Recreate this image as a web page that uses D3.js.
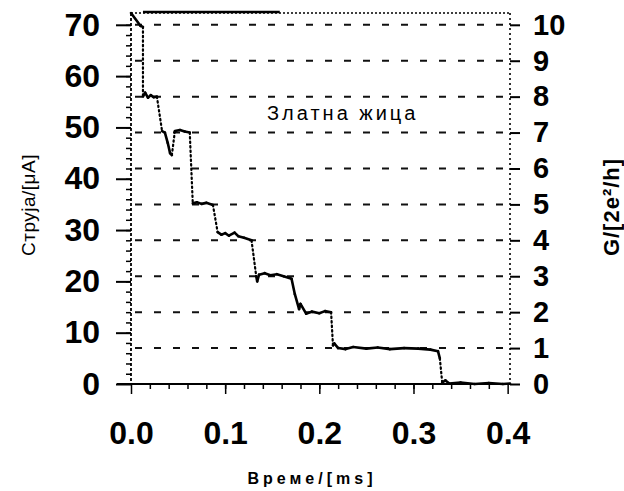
<!DOCTYPE html>
<html>
  <head>
    <meta charset="utf-8">
    <title>Златна жица</title>
    <script src="https://cdn.jsdelivr.net/npm/d3@7"></script>
    <style type="text/css">
      body { margin: 0; background: #fff; }
      text { font-family: "Liberation Sans", Arial, sans-serif; fill: #000; }
    </style>
  </head>
  <body>
    <script>
    // current trace of a breaking gold contact
    var timeMs = [0.000, 0.010, 0.0127, 0.0127, 0.015, 0.018, 0.021, 0.024, 0.0275, 0.033, 0.036,
                  0.039, 0.0415, 0.0434, 0.0466, 0.052, 0.057, 0.0624, 0.0656, 0.070, 0.075, 0.080,
                  0.087, 0.092, 0.096, 0.100, 0.104, 0.110, 0.114, 0.120, 0.128, 0.133, 0.134,
                  0.136, 0.142, 0.148, 0.155, 0.162, 0.1705, 0.174, 0.1785, 0.180, 0.186, 0.192,
                  0.200, 0.206, 0.2125, 0.2145, 0.216, 0.220, 0.228, 0.236, 0.250, 0.262, 0.275,
                  0.290, 0.305, 0.318, 0.326, 0.328, 0.3305, 0.334, 0.338, 0.350, 0.365, 0.380,
                  0.395, 0.4025];
    var currentUA = [72.3, 69.8, 69.6, 56.0, 56.8, 55.8, 56.3, 55.9, 56.0, 49.3, 49.0,
                     47.0, 45.0, 44.6, 49.3, 49.5, 49.2, 49.0, 35.2, 35.4, 35.1, 35.3,
                     34.9, 29.6, 29.1, 29.4, 28.9, 29.5, 28.8, 28.5, 28.0, 21.0, 20.0,
                     21.3, 21.6, 21.2, 21.4, 21.0, 20.5, 17.5, 14.6, 15.6, 13.7, 14.1,
                     13.8, 14.2, 14.0, 7.5, 7.9, 7.0, 6.8, 7.2, 6.9, 7.1, 6.8,
                     7.0, 6.9, 6.7, 6.4, 5.0, 0.3, 0.7, 0.1, 0.3, 0.0, 0.2,
                     0.0, 0.1];
    // part of the top edge where the trace sits at saturation
    var saturated = [0.0127, 0.158];

    var xTicks = [0.0, 0.1, 0.2, 0.3, 0.4];
    var xTickLabels = ["0.0", "0.1", "0.2", "0.3", "0.4"];
    var currentTicks = [0, 10, 20, 30, 40, 50, 60, 70];
    var gTicks = [0, 1, 2, 3, 4, 5, 6, 7, 8, 9, 10];

    var yTitle = "Струја/[μA]";
    var gTitle = "G/[2e²/h]";
    var xTitle = "Време/[ms]";
    var note = "Златна жица";

    var width = 624, height = 491;
    var margin = {top: 13, right: 114, bottom: 107, left: 131};

    var svg = d3.select("body")
      .append("svg")
        .attr("width", width)
        .attr("height", height);

    var xScale = d3.scaleLinear()
      .domain([0, 0.4025])
      .range([margin.left, width - margin.right]);

    var yScale = d3.scaleLinear()
      .domain([0, 72.3])
      .range([height - margin.bottom, margin.top]);

    // 1 G unit = 7 uA here
    var gScale = d3.scaleLinear()
      .domain([0, 72.3 / 7])
      .range([height - margin.bottom, margin.top]);

    var x0 = xScale.range()[0], x1 = xScale.range()[1];
    var y0 = yScale.range()[0], y1 = yScale.range()[1];

    // dashed grid at each G step
    svg.append("g")
      .selectAll("line")
      .data(gTicks.filter(function(d) { return d > 0; }))
      .enter()
      .append("line")
        .attr("x1", x0 + 4)
        .attr("x2", x1 - 4)
        .attr("y1", function(d) { return gScale(d); })
        .attr("y2", function(d) { return gScale(d); })
        .attr("stroke", "#111")
        .attr("stroke-width", 2)
        .attr("stroke-dasharray", "7 12");

    // frame: dotted top / right / left, solid bottom
    svg.append("line")
      .attr("x1", x0).attr("x2", x1).attr("y1", y1).attr("y2", y1)
      .attr("stroke", "#000").attr("stroke-width", 1.6)
      .attr("stroke-dasharray", "2 2");
    svg.append("line")
      .attr("x1", xScale(saturated[0])).attr("x2", xScale(saturated[1]))
      .attr("y1", y1 - 1).attr("y2", y1 - 1)
      .attr("stroke", "#000").attr("stroke-width", 2.5);
    svg.append("line")
      .attr("x1", x1).attr("x2", x1).attr("y1", y1).attr("y2", y0)
      .attr("stroke", "#000").attr("stroke-width", 1.6)
      .attr("stroke-dasharray", "2 3");
    svg.append("line")
      .attr("x1", x0).attr("x2", x0).attr("y1", y1).attr("y2", y0)
      .attr("stroke", "#000").attr("stroke-width", 1.8)
      .attr("stroke-dasharray", "3 2");
    svg.append("line")
      .attr("x1", x0 - 14).attr("x2", x1).attr("y1", y0).attr("y2", y0)
      .attr("stroke", "#000").attr("stroke-width", 2);

    // left axis
    var leftAxis = svg.append("g")
      .attr("transform", "translate(" + x0 + ",0)")
      .call(d3.axisLeft(yScale).tickValues(currentTicks).tickSize(15).tickPadding(16));
    leftAxis.select(".domain").remove();
    leftAxis.selectAll("line").attr("stroke-width", 2);
    leftAxis.selectAll("text")
      .attr("font-size", 32).attr("font-weight", "bold")
      .attr("font-family", "Liberation Sans, Arial, sans-serif");
    svg.append("g")
      .attr("transform", "translate(" + x0 + ",0)")
      .call(d3.axisLeft(yScale).tickValues(d3.range(2, 72, 2)).tickSize(5).tickFormat(""))
      .call(function(g) { g.select(".domain").remove(); g.selectAll("line").attr("stroke-width", 1.5); });

    // right axis (G)
    var rightAxis = svg.append("g")
      .attr("transform", "translate(" + x1 + ",0)")
      .call(d3.axisRight(gScale).tickValues(gTicks).tickSize(10).tickPadding(13));
    rightAxis.select(".domain").remove();
    rightAxis.selectAll("line").attr("stroke-width", 2);
    rightAxis.selectAll("text")
      .attr("font-size", 29).attr("font-weight", "bold")
      .attr("font-family", "Liberation Sans, Arial, sans-serif");

    // bottom axis
    var bottomAxis = svg.append("g")
      .attr("transform", "translate(0," + y0 + ")")
      .call(d3.axisBottom(xScale).tickValues(xTicks).tickSize(10).tickPadding(27)
        .tickFormat(function(d, i) { return xTickLabels[i]; }));
    bottomAxis.select(".domain").remove();
    bottomAxis.selectAll("line").attr("stroke-width", 1.5);
    bottomAxis.selectAll("text")
      .attr("font-size", 32).attr("font-weight", "bold")
      .attr("font-family", "Liberation Sans, Arial, sans-serif");
    svg.append("g")
      .attr("transform", "translate(0," + y0 + ")")
      .call(d3.axisBottom(xScale).tickValues(d3.range(0.02, 0.4, 0.02)).tickSize(5).tickFormat(""))
      .call(function(g) { g.select(".domain").remove(); g.selectAll("line").attr("stroke-width", 1.5); });

    // trace: plateaus solid, fast jumps dotted
    var pts = timeMs.map(function(t, i) { return [t, currentUA[i]]; });
    var segs = d3.pairs(pts);
    svg.append("g")
      .selectAll("line")
      .data(segs)
      .enter()
      .append("line")
        .attr("x1", function(d) { return xScale(d[0][0]); })
        .attr("y1", function(d) { return yScale(d[0][1]); })
        .attr("x2", function(d) { return xScale(d[1][0]); })
        .attr("y2", function(d) { return yScale(d[1][1]); })
        .attr("stroke", "#000")
        .attr("stroke-width", function(d) { return Math.abs(d[1][1] - d[0][1]) > 3 ? 2.2 : 2.6; })
        .attr("stroke-linecap", "round")
        .attr("stroke-dasharray", function(d) { return Math.abs(d[1][1] - d[0][1]) > 3 ? "1.5 3" : null; });

    // titles
    svg.append("text")
      .attr("transform", "translate(35,205) rotate(-90)")
      .attr("text-anchor", "middle")
      .attr("font-size", 19)
      .attr("letter-spacing", 0.5)
      .text(yTitle);

    svg.append("text")
      .attr("transform", "translate(619,207) rotate(-90)")
      .attr("text-anchor", "middle")
      .attr("font-size", 22)
      .attr("font-weight", "bold")
      .attr("letter-spacing", 1)
      .text(gTitle);

    svg.append("text")
      .attr("x", 312)
      .attr("y", 484)
      .attr("text-anchor", "middle")
      .attr("font-size", 16)
      .attr("font-weight", "bold")
      .attr("letter-spacing", 4)
      .text(xTitle);

    svg.append("text")
      .attr("x", 267)
      .attr("y", yScale(51.5))
      .attr("font-size", 20)
      .attr("letter-spacing", 3)
      .text(note);

    </script>
  </body>
</html>
